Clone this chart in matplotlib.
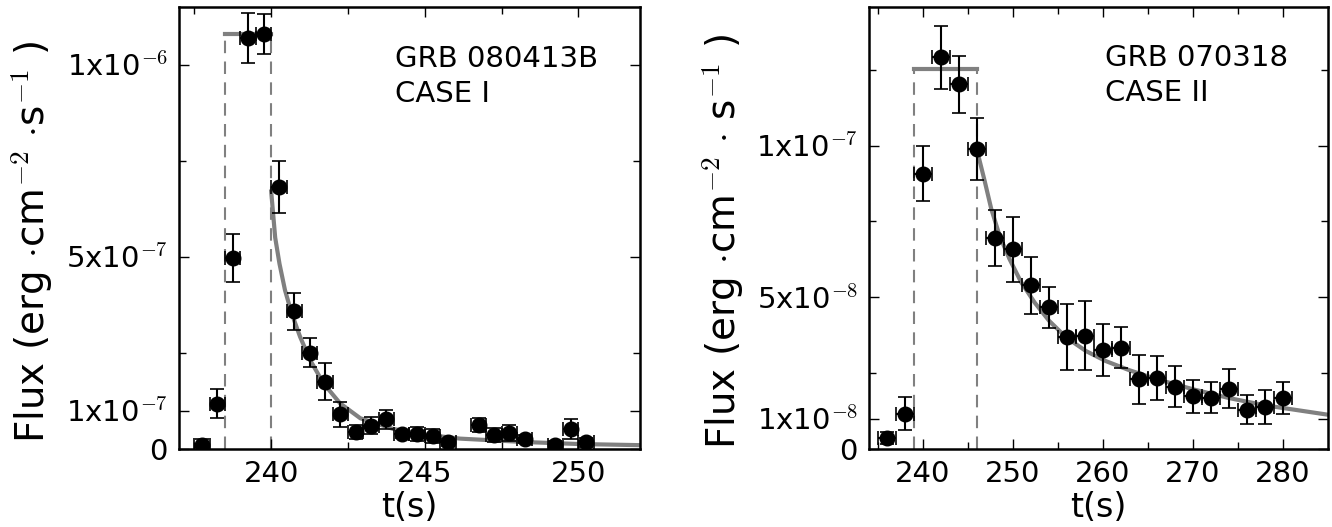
import matplotlib
matplotlib.use('Agg')
import matplotlib.pyplot as plt

plt.rcParams['mathtext.fontset'] = 'cm'
plt.rcParams['font.family'] = 'DejaVu Sans'

# GRB 080413B light curve (flux in 1e-7 erg/cm2/s)
t_a = [237.75, 238.25, 238.75, 239.25, 239.75, 240.25, 240.75, 241.25, 241.75, 242.25,
       242.75, 243.25, 243.75, 244.25, 244.75, 245.25, 245.75, 246.75, 247.25, 247.75,
       248.25, 249.25, 249.75, 250.25]
f_a = [0.11, 1.18, 4.97, 10.69, 10.80, 6.82, 3.58, 2.51, 1.75, 0.90,
       0.45, 0.61, 0.77, 0.38, 0.39, 0.33, 0.17, 0.62, 0.36, 0.42,
       0.26, 0.11, 0.52, 0.17]
ef_a = [0.15, 0.37, 0.62, 0.65, 0.53, 0.68, 0.48, 0.37, 0.48, 0.32,
        0.18, 0.23, 0.25, 0.10, 0.18, 0.18, 0.10, 0.18, 0.18, 0.20,
        0.10, 0.10, 0.27, 0.12]
et_a = 0.25
# plateau level and decay curve
plat_a = [238.5, 240.0]
plat_a_f = 10.8
fit_a_t = [240.0, 240.13, 240.27, 240.45, 240.67, 240.94, 241.27, 241.7, 242.24, 242.9,
           243.98, 245.07, 246.15, 248.3, 250.0, 252.0]
fit_a_f = [6.7, 5.5, 4.82, 4.13, 3.52, 2.92, 2.31, 1.71, 1.19, 0.80,
           0.52, 0.37, 0.27, 0.18, 0.13, 0.10]

# GRB 070318 light curve (flux in 1e-8 erg/cm2/s)
t_b = [236, 238, 240, 242, 244, 246, 248, 250, 252, 254, 256, 258,
       260, 262, 264, 266, 268, 270, 272, 274, 276, 278, 280]
f_b = [0.36, 1.17, 9.08, 12.91, 12.03, 9.89, 6.95, 6.58, 5.39, 4.67, 3.70, 3.73,
       3.27, 3.34, 2.30, 2.33, 2.05, 1.74, 1.69, 1.99, 1.30, 1.38, 1.69]
ef_b = [0.20, 0.54, 0.90, 1.03, 0.94, 1.02, 0.93, 1.08, 0.93, 0.68, 1.09, 1.14,
        0.86, 0.68, 0.81, 0.73, 0.67, 0.54, 0.51, 0.65, 0.48, 0.57, 0.52]
et_b = 1.0
plat_b = [239.0, 246.0]
plat_b_f = 12.53
fit_b_t = [246.0, 246.84, 247.58, 248.5, 249.6, 250.9, 252.4, 254.0, 255.9, 258.1,
           260.3, 262.9, 266.0, 270.0, 274.0, 278.0, 285.0]
fit_b_f = [9.85, 8.85, 7.92, 7.04, 6.27, 5.50, 4.83, 4.23, 3.68, 3.23,
           2.90, 2.60, 2.30, 1.97, 1.68, 1.44, 1.13]

GRAY = '#808080'

fig = plt.figure(figsize=(13.32, 5.27), dpi=100)
ax1 = fig.add_axes([0.1344, 0.148, 0.346, 0.8387])
ax2 = fig.add_axes([0.6524, 0.148, 0.3446, 0.8387])


def draw(ax, t, f, ef, et, scale, plat, plat_f, fit_t, fit_f):
    y = [v * scale for v in f]
    ey = [v * scale for v in ef]
    ax.plot(plat, [plat_f * scale] * 2, color=GRAY, lw=3, solid_capstyle='projecting', zorder=1)
    for x in plat:
        ax.plot([x, x], [0, plat_f * scale], color=GRAY, lw=1.5, ls=(0, (6, 4)), zorder=1)
    ax.plot(fit_t, [v * scale for v in fit_f], color=GRAY, lw=3, zorder=1)
    ax.errorbar(t, y, xerr=et, yerr=ey, fmt='o', color='k', ms=10.5,
                elinewidth=1.5, capsize=5, capthick=1.2, zorder=3)


draw(ax1, t_a, f_a, ef_a, et_a, 1e-7, plat_a, plat_a_f, fit_a_t, fit_a_f)
draw(ax2, t_b, f_b, ef_b, et_b, 1e-8, plat_b, plat_b_f, fit_b_t, fit_b_f)

ax1.set_xlim(237, 252)
ax1.set_ylim(0, 1.15e-6)
ax1.set_xticks([240, 245, 250])
ax1.set_xticks([237.5, 242.5, 247.5], minor=True)
ax1.set_yticks([0, 1e-7, 5e-7, 1e-6])
ax1.set_yticklabels(['0', r'1x10$^{-7}$', r'5x10$^{-7}$', r'1x10$^{-6}$'])
ax1.set_yticks([2.5e-7, 7.5e-7], minor=True)
ax1.set_ylabel(r'Flux (erg $\cdot$cm$^{-2}$ $\cdot$s$^{-1}$ )', fontsize=28)
ax1.yaxis.set_label_coords(-0.27, 0.47)
ax1.text(0.469, 0.914, 'GRB 080413B\nCASE I', transform=ax1.transAxes,
         fontsize=21, va='top', ha='left', linespacing=1.3)

ax2.set_xlim(234, 285)
ax2.set_ylim(0, 1.457e-7)
ax2.set_xticks([240, 250, 260, 270, 280])
ax2.set_xticks([235, 245, 255, 265, 275], minor=True)
ax2.set_yticks([0, 1e-8, 5e-8, 1e-7])
ax2.set_yticklabels(['0', r'1x10$^{-8}$', r'5x10$^{-8}$', r'1x10$^{-7}$'])
ax2.set_yticks([2.5e-8, 7.5e-8, 1.25e-7], minor=True)
ax2.set_ylabel(r'Flux (erg $\cdot$cm$^{-2}$ $\cdot$ s$^{-1}$ )', fontsize=28)
ax2.yaxis.set_label_coords(-0.267, 0.47)
ax2.text(0.514, 0.916, 'GRB 070318\nCASE II', transform=ax2.transAxes,
         fontsize=21, va='top', ha='left', linespacing=1.3)

for ax in (ax1, ax2):
    ax.set_xlabel('t(s)', fontsize=24, labelpad=2)
    ax.tick_params(which='both', direction='in', top=True, right=True, width=1)
    ax.tick_params(which='major', length=7, labelsize=21, pad=8)
    ax.tick_params(which='minor', length=5)
    for s in ax.spines.values():
        s.set_linewidth(1.8)

fig.savefig('out.png', dpi=100)
